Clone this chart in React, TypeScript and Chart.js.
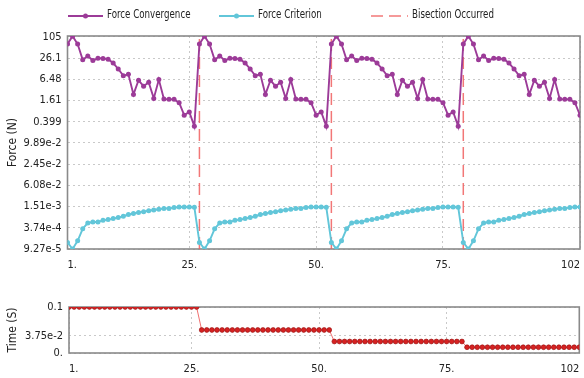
import React, { useEffect, useRef } from "react";
import { Chart, registerables } from "chart.js";

Chart.register(...registerables);

const FONT = '"DejaVu Sans Condensed", "Liberation Sans", sans-serif';
const PURPLE = "#9c3b98";
const CYAN = "#62c6d9";
const DASH_RED = "rgba(240,95,95,0.85)";

// Force convergence (N), one value per iteration 1..102
const FORCE_CONVERGENCE = [
  66, 111, 66, 23.4, 30.3, 22.3, 26.1, 25.4, 24.4, 18.9, 12.8, 8.26, 9.0, 2.41, 6.1, 4.12, 5.35, 1.85, 6.37, 1.77, 1.74, 1.74, 1.4, 0.615, 0.762, 0.295,
  66, 111, 66, 23.4, 30.3, 22.3, 26.1, 25.4, 24.4, 18.9, 12.8, 8.26, 9.0, 2.41, 6.1, 4.12, 5.35, 1.85, 6.37, 1.77, 1.74, 1.74, 1.4, 0.615, 0.762, 0.295,
  66, 111, 66, 23.4, 30.3, 22.3, 26.1, 25.4, 24.4, 18.9, 12.8, 8.26, 9.0, 2.41, 6.1, 4.12, 5.35, 1.85, 6.37, 1.77, 1.74, 1.74, 1.4, 0.615, 0.762, 0.295,
  66, 111, 66, 23.4, 30.3, 22.3, 26.1, 25.4, 24.4, 18.9, 12.8, 8.26, 9.0, 2.41, 6.1, 4.12, 5.35, 1.85, 6.37, 1.77, 1.74, 1.74, 1.4, 0.615,
];

// Force criterion (N), one value per iteration 1..102
const FORCE_CRITERION = [
  1.43e-4, 9.27e-5, 1.59e-4, 3.49e-4, 5.13e-4, 5.49e-4, 5.49e-4, 6.11e-4, 6.41e-4, 6.85e-4, 7.33e-4, 8.0e-4, 8.97e-4, 9.6e-4, 1.03e-3, 1.08e-3, 1.15e-3, 1.2e-3, 1.26e-3, 1.34e-3, 1.34e-3, 1.41e-3, 1.46e-3, 1.46e-3, 1.46e-3, 1.44e-3,
  1.43e-4, 9.27e-5, 1.59e-4, 3.49e-4, 5.13e-4, 5.49e-4, 5.49e-4, 6.11e-4, 6.41e-4, 6.85e-4, 7.33e-4, 8.0e-4, 8.97e-4, 9.6e-4, 1.03e-3, 1.08e-3, 1.15e-3, 1.2e-3, 1.26e-3, 1.34e-3, 1.34e-3, 1.41e-3, 1.46e-3, 1.46e-3, 1.46e-3, 1.44e-3,
  1.43e-4, 9.27e-5, 1.59e-4, 3.49e-4, 5.13e-4, 5.49e-4, 5.49e-4, 6.11e-4, 6.41e-4, 6.85e-4, 7.33e-4, 8.0e-4, 8.97e-4, 9.6e-4, 1.03e-3, 1.08e-3, 1.15e-3, 1.2e-3, 1.26e-3, 1.34e-3, 1.34e-3, 1.41e-3, 1.46e-3, 1.46e-3, 1.46e-3, 1.44e-3,
  1.43e-4, 9.27e-5, 1.59e-4, 3.49e-4, 5.13e-4, 5.49e-4, 5.49e-4, 6.11e-4, 6.41e-4, 6.85e-4, 7.33e-4, 8.0e-4, 8.97e-4, 9.6e-4, 1.03e-3, 1.08e-3, 1.15e-3, 1.2e-3, 1.26e-3, 1.34e-3, 1.34e-3, 1.41e-3, 1.46e-3, 1.46e-3,
];

// Iterations at which a bisection occurred
const BISECTIONS = [27, 53, 79];

// Time step (s), one value per step 1..101
const TIME_STEP = [
  0.1, 0.1, 0.1, 0.1, 0.1, 0.1, 0.1, 0.1, 0.1, 0.1, 0.1, 0.1, 0.1, 0.1, 0.1, 0.1, 0.1, 0.1, 0.1, 0.1, 0.1, 0.1, 0.1, 0.1, 0.1, 0.1,
  0.05, 0.05, 0.05, 0.05, 0.05, 0.05, 0.05, 0.05, 0.05, 0.05, 0.05, 0.05, 0.05, 0.05, 0.05, 0.05, 0.05, 0.05, 0.05, 0.05, 0.05, 0.05, 0.05, 0.05, 0.05, 0.05,
  0.025, 0.025, 0.025, 0.025, 0.025, 0.025, 0.025, 0.025, 0.025, 0.025, 0.025, 0.025, 0.025, 0.025, 0.025, 0.025, 0.025, 0.025, 0.025, 0.025, 0.025, 0.025, 0.025, 0.025, 0.025, 0.025,
  0.0125, 0.0125, 0.0125, 0.0125, 0.0125, 0.0125, 0.0125, 0.0125, 0.0125, 0.0125, 0.0125, 0.0125, 0.0125, 0.0125, 0.0125, 0.0125, 0.0125, 0.0125, 0.0125, 0.0125, 0.0125, 0.0125, 0.0125,
];

const X_MIN = 1;
const X_MAX = 102;
const X_TICKS = [1, 25, 50, 75, 102];
const X_TICK_LABELS = ["1.", "25.", "50.", "75.", "102"];

const BOTTOM_X_MAX = 101;
const BOTTOM_X_TICKS = [1, 25, 50, 75, 101];
const BOTTOM_X_TICK_LABELS = ["1.", "25.", "50.", "75.", "102"];

const Y_MIN = 9.27e-5;
const Y_MAX = 112;
const Y_TICKS = [9.27e-5, 3.74e-4, 1.51e-3, 6.08e-3, 2.45e-2, 9.89e-2, 0.399, 1.61, 6.48, 26.1, 105];
const Y_TICK_LABELS = ["9.27e-5", "3.74e-4", "1.51e-3", "6.08e-2", "2.45e-2", "9.89e-2", "0.399", "1.61", "6.48", "26.1", "105"];

const T_MIN = 0;
const T_MAX = 0.1;
const T_TICKS = [0, 0.0375, 0.1];
const T_TICK_LABELS = ["0.", "3.75e-2", "0.1"];

const LEGEND_ITEMS = [
  { label: "Force Convergence", kind: "line", color: PURPLE, x: 68, w: 35 },
  { label: "Force Criterion", kind: "line", color: CYAN, x: 219, w: 35 },
  { label: "Bisection Occurred", kind: "dash", color: DASH_RED, x: 371, w: 37 },
];

const framePlugin = {
  id: "frame",
  beforeDatasetsDraw(chart: any) {
    const { ctx, chartArea: a } = chart;
    ctx.save();
    ctx.strokeStyle = "#8a8a8a";
    ctx.lineWidth = 1.6;
    ctx.strokeRect(a.left, a.top, a.right - a.left, a.bottom - a.top);
    ctx.restore();
  },
};

const legendPlugin = {
  id: "customLegend",
  afterDraw(chart: any) {
    const { ctx } = chart;
    const y = 16;
    ctx.save();
    LEGEND_ITEMS.forEach((it) => {
      ctx.strokeStyle = it.color;
      ctx.fillStyle = it.color;
      if (it.kind === "line") {
        ctx.lineWidth = 1.8;
        ctx.setLineDash([]);
        ctx.beginPath();
        ctx.moveTo(it.x, y);
        ctx.lineTo(it.x + it.w, y);
        ctx.stroke();
        ctx.beginPath();
        ctx.arc(it.x + it.w / 2, y, 2.5, 0, Math.PI * 2);
        ctx.fill();
      } else {
        ctx.lineWidth = 1.3;
        ctx.setLineDash([12, 6]);
        ctx.beginPath();
        ctx.moveTo(it.x, y);
        ctx.lineTo(it.x + it.w, y);
        ctx.stroke();
        ctx.setLineDash([]);
      }
      ctx.save();
      ctx.fillStyle = "#222";
      ctx.font = `11.5px ${FONT}`;
      ctx.textBaseline = "middle";
      ctx.textAlign = "left";
      ctx.translate(it.x + it.w + 4, y - 1);
      ctx.scale(0.84, 1);
      ctx.fillText(it.label, 0, 0);
      ctx.restore();
    });
    ctx.restore();
  },
};

const gridCfg = { color: "#c9c9c9", lineWidth: 1, drawTicks: false };
const borderCfg = { display: false, dash: [2, 3] };
const tickFont = { family: FONT, size: 11 };
const titleFont = { family: FONT, size: 12 };

function fitX(height: number) {
  return (s: any) => {
    s.height = height;
    s.paddingLeft = 0;
    s.paddingRight = 0;
  };
}

export default function App() {
  const topRef = useRef<HTMLCanvasElement | null>(null);
  const botRef = useRef<HTMLCanvasElement | null>(null);

  useEffect(() => {
    if (!topRef.current || !botRef.current) return;
    const bisectionData: any[] = [];
    BISECTIONS.forEach((b) => {
      bisectionData.push({ x: b, y: Y_MIN }, { x: b, y: Y_MAX }, { x: b, y: null });
    });

    const top = new Chart(topRef.current, {
      type: "line",
      data: {
        datasets: [
          {
            label: "Force Convergence",
            data: FORCE_CONVERGENCE.map((v, i) => ({ x: i + 1, y: v })),
            borderColor: PURPLE,
            backgroundColor: PURPLE,
            pointBackgroundColor: PURPLE,
            pointBorderColor: PURPLE,
            borderWidth: 1.9,
            pointRadius: 2.5,
            pointBorderWidth: 0,
            order: 1,
          },
          {
            label: "Force Criterion",
            data: FORCE_CRITERION.map((v, i) => ({ x: i + 1, y: v })),
            borderColor: CYAN,
            backgroundColor: CYAN,
            pointBackgroundColor: CYAN,
            pointBorderColor: CYAN,
            borderWidth: 1.9,
            pointRadius: 2.5,
            pointBorderWidth: 0,
            order: 2,
          },
          {
            label: "Bisection Occurred",
            data: bisectionData,
            borderColor: DASH_RED,
            borderWidth: 1.5,
            borderDash: [12, 6],
            pointRadius: 0,
            spanGaps: false,
            order: 3,
          },
        ],
      } as any,
      options: {
        animation: false,
        responsive: false,
        maintainAspectRatio: false,
        layout: { padding: { top: 36, right: 2, left: 0, bottom: 0 } },
        plugins: { legend: { display: false }, tooltip: { enabled: false } },
        scales: {
          x: {
            type: "linear",
            min: X_MIN,
            max: X_MAX,
            afterBuildTicks: (s: any) => {
              s.ticks = X_TICKS.map((v) => ({ value: v }));
            },
            afterFit: fitX(31),
            ticks: {
              callback: (_v: any, i: number) => X_TICK_LABELS[i],
              align: "inner",
              maxRotation: 0,
              autoSkip: false,
              font: tickFont,
              color: "#222",
              padding: 10,
            },
            grid: gridCfg,
            border: borderCfg,
          },
          y: {
            type: "logarithmic",
            min: Y_MIN,
            max: Y_MAX,
            afterBuildTicks: (s: any) => {
              s.ticks = Y_TICKS.map((v) => ({ value: v }));
            },
            afterFit: (s: any) => {
              s.width = 67.5;
            },
            ticks: {
              callback: (_v: any, i: number) => Y_TICK_LABELS[i],
              autoSkip: false,
              font: tickFont,
              color: "#222",
              padding: 6,
            },
            title: { display: true, text: "Force (N)", font: titleFont, color: "#222", padding: { top: 6, bottom: 0 } },
            grid: gridCfg,
            border: borderCfg,
          },
        },
      } as any,
      plugins: [framePlugin, legendPlugin],
    });

    const bot = new Chart(botRef.current, {
      type: "line",
      data: {
        datasets: [
          {
            label: "Time step",
            data: TIME_STEP.map((v, i) => ({ x: i + 1, y: v })),
            borderColor: "#f07070",
            borderWidth: 1,
            pointRadius: 2.4,
            pointBackgroundColor: "#d62222",
            pointBorderColor: "#9e1414",
            pointBorderWidth: 0.7,
          },
        ],
      } as any,
      options: {
        animation: false,
        responsive: false,
        maintainAspectRatio: false,
        layout: { padding: { top: 27, right: 1, left: 0, bottom: 0 } },
        plugins: { legend: { display: false }, tooltip: { enabled: false } },
        scales: {
          x: {
            type: "linear",
            min: X_MIN,
            max: BOTTOM_X_MAX,
            afterBuildTicks: (s: any) => {
              s.ticks = BOTTOM_X_TICKS.map((v) => ({ value: v }));
            },
            afterFit: fitX(25),
            ticks: {
              callback: (_v: any, i: number) => BOTTOM_X_TICK_LABELS[i],
              align: "inner",
              maxRotation: 0,
              autoSkip: false,
              font: tickFont,
              color: "#222",
              padding: 10,
            },
            grid: gridCfg,
            border: borderCfg,
          },
          y: {
            type: "linear",
            min: T_MIN,
            max: T_MAX,
            afterBuildTicks: (s: any) => {
              s.ticks = T_TICKS.map((v) => ({ value: v }));
            },
            afterFit: (s: any) => {
              s.width = 69;
            },
            ticks: {
              callback: (_v: any, i: number) => T_TICK_LABELS[i],
              autoSkip: false,
              font: tickFont,
              color: "#222",
              padding: 6,
            },
            title: { display: true, text: "Time (S)", font: titleFont, color: "#222", padding: { top: 6, bottom: 0 } },
            grid: gridCfg,
            border: borderCfg,
          },
        },
      } as any,
      plugins: [framePlugin],
    });

    return () => {
      top.destroy();
      bot.destroy();
    };
  }, []);

  return (
    <div style={{ position: "absolute", left: 0, top: 0, width: 584, height: 378, background: "#fff" }}>
      <canvas ref={topRef} width={584} height={280} style={{ position: "absolute", left: 0, top: 0, width: 584, height: 280 }} />
      <canvas ref={botRef} width={584} height={98} style={{ position: "absolute", left: 0, top: 280, width: 584, height: 98 }} />
    </div>
  );
}
